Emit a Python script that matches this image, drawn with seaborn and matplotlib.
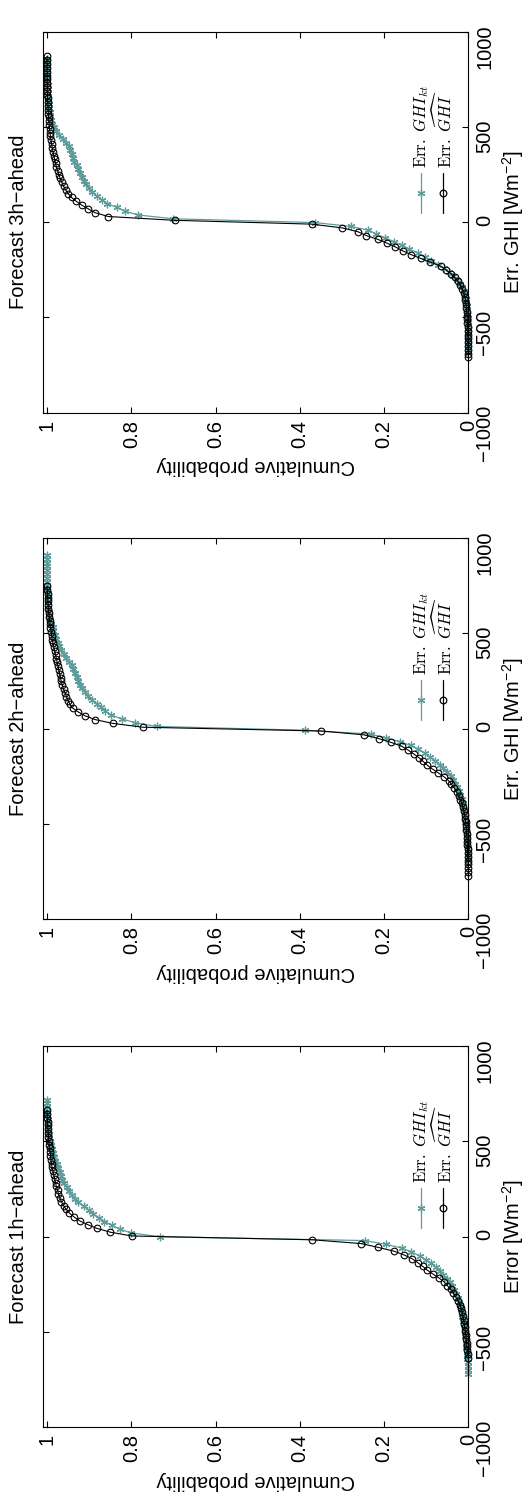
import matplotlib
matplotlib.use("Agg")
import matplotlib.pyplot as plt
import seaborn as sns
import pandas as pd

# ---------------- data ----------------
# Forecast 3h-ahead
E3_GHI_ERR = [-710, -690, -670, -650, -630, -610, -590, -570, -550, -530, -510, -490,
              -470, -450, -430, -410, -390, -370, -350, -330, -310, -290, -270, -250,
              -230, -210, -190, -170, -150, -130, -110, -90, -70, -50, -30, -10,
              10, 30, 50, 70, 90, 110, 130, 150, 170, 190, 210, 230, 250, 270, 290, 310,
              330, 350, 370, 390, 410, 430, 450, 470, 490, 510, 530, 550, 570, 590, 610,
              630, 650, 670, 690, 710, 730, 750, 770, 790, 810, 830, 850, 870]
E3_GHI_P = [0.0, 0.0001, 0.0002, 0.0004, 0.0006, 0.0008, 0.001, 0.0013, 0.0016, 0.002, 0.0025, 0.003,
            0.0037, 0.0045, 0.0055, 0.0068, 0.0085, 0.011, 0.0145, 0.019, 0.025, 0.032, 0.041, 0.053,
            0.066, 0.090, 0.113, 0.136, 0.156, 0.173, 0.193, 0.215, 0.242, 0.262, 0.299, 0.372,
            0.697, 0.855, 0.886, 0.902, 0.918, 0.931, 0.942, 0.950, 0.956, 0.961, 0.965, 0.969,
            0.972, 0.975, 0.978, 0.980, 0.982, 0.984, 0.986, 0.988, 0.989, 0.991, 0.992, 0.993,
            0.994, 0.995, 0.996, 0.9965, 0.997, 0.9975, 0.998, 0.9985, 0.999, 0.9992, 0.9994,
            0.9995, 0.9996, 0.9997, 0.9998, 0.9998, 0.9999, 0.9999, 1.0, 1.0]
E3_KT_ERR = [-682, -662, -642, -622, -602, -582, -562, -542, -522, -502, -482, -462,
             -442, -422, -402, -382, -362, -342, -322, -302, -282, -262, -242, -222,
             -202, -182, -162, -142, -122, -102, -82, -62, -42, -22, -2,
             18, 38, 58, 78, 98, 118, 138, 158, 178, 198, 218, 238, 258, 278, 298, 318,
             338, 358, 378, 398, 418, 438, 458, 478, 498, 518, 538, 558, 578, 598, 618,
             638, 658, 678, 698, 718, 738, 758, 778, 798, 818, 838, 858]
E3_KT_P = [0.0, 0.0001, 0.0002, 0.0003, 0.0005, 0.0007, 0.0009, 0.0012, 0.0015, 0.0019, 0.0024, 0.003,
           0.0038, 0.0048, 0.006, 0.0078, 0.0105, 0.0145, 0.020, 0.027, 0.036, 0.046, 0.058, 0.072,
           0.088, 0.104, 0.119, 0.140, 0.158, 0.176, 0.198, 0.218, 0.237, 0.279, 0.364,
           0.700, 0.784, 0.815, 0.835, 0.858, 0.870, 0.882, 0.893, 0.901, 0.907, 0.913, 0.918,
           0.922, 0.926, 0.930, 0.935, 0.939, 0.942, 0.945, 0.948, 0.955, 0.963, 0.971, 0.979,
           0.984, 0.988, 0.990, 0.992, 0.9935, 0.995, 0.996, 0.997, 0.9975, 0.998, 0.9985,
           0.999, 0.9993, 0.9995, 0.9997, 0.9998, 0.9999, 1.0, 1.0]

# Forecast 2h-ahead
E2_GHI_ERR = [-772, -752, -732, -712, -692, -672, -652, -632, -612, -592, -572, -552,
              -532, -512, -492, -472, -452, -432, -412, -392, -372, -352, -332, -312,
              -292, -272, -252, -232, -212, -192, -172, -152, -132, -112, -92, -72,
              -52, -32, -12,
              8, 28, 48, 68, 88, 108, 128, 148, 168, 188, 208, 228, 248, 268, 288, 308,
              328, 348, 368, 388, 408, 428, 448, 468, 488, 508, 528, 548, 568, 588, 608,
              628, 648, 668, 688, 708, 728, 748]
E2_GHI_P = [0.0, 0.0002, 0.0004, 0.0006, 0.0009, 0.0012, 0.0015, 0.0018, 0.0022, 0.0026, 0.0031, 0.0037,
            0.0044, 0.0052, 0.0063, 0.0075, 0.0088, 0.0105, 0.0125, 0.015, 0.019, 0.023, 0.028, 0.033,
            0.040, 0.047, 0.058, 0.071, 0.085, 0.097, 0.107, 0.117, 0.130, 0.143, 0.158, 0.183,
            0.212, 0.248, 0.349,
            0.773, 0.844, 0.886, 0.910, 0.926, 0.939, 0.946, 0.950, 0.954, 0.957, 0.961, 0.964,
            0.9665, 0.968, 0.970, 0.972, 0.974, 0.976, 0.978, 0.980, 0.982, 0.984, 0.986, 0.988,
            0.989, 0.990, 0.992, 0.993, 0.994, 0.995, 0.996, 0.997, 0.9975, 0.998, 0.9985,
            0.999, 0.9995, 1.0]
E2_KT_ERR = [-688, -668, -648, -628, -608, -588, -568, -548, -528, -508, -488, -468,
             -448, -428, -408, -388, -368, -348, -328, -308, -288, -268, -248, -228,
             -208, -188, -168, -148, -128, -108, -88, -68, -48, -28, -8,
             12, 32, 52, 72, 92, 112, 132, 152, 172, 192, 212, 232, 252, 272, 292, 312,
             332, 352, 372, 392, 412, 432, 452, 472, 492, 512, 532, 552, 572, 592, 612,
             632, 652, 672, 692, 712, 732, 752, 772, 792, 812, 832, 852, 872, 892, 912]
E2_KT_P = [0.0, 0.0006, 0.0012, 0.0018, 0.0024, 0.003, 0.0036, 0.0042, 0.0048, 0.0055, 0.0062, 0.007,
           0.0083, 0.0098, 0.0115, 0.0135, 0.016, 0.0187, 0.022, 0.026, 0.031, 0.036, 0.042, 0.050,
           0.059, 0.068, 0.079, 0.091, 0.104, 0.119, 0.137, 0.162, 0.196, 0.232, 0.388,
           0.740, 0.792, 0.823, 0.848, 0.862, 0.872, 0.882, 0.894, 0.903, 0.909, 0.916, 0.922,
           0.926, 0.930, 0.934, 0.938, 0.942, 0.948, 0.954, 0.960, 0.966, 0.971, 0.975, 0.978,
           0.981, 0.985, 0.987, 0.990, 0.993, 0.995, 0.996, 0.997, 0.9975, 0.998, 0.9985,
           0.999, 0.9992, 0.9994, 0.9995, 0.9996, 0.9997, 0.9998, 0.9999, 0.9999, 1.0, 1.0]

# Forecast 1h-ahead
E1_GHI_ERR = [-636, -616, -596, -576, -556, -536, -516, -496, -476, -456, -436, -416,
              -396, -376, -356, -336, -316, -296, -276, -256, -236, -216, -196, -176,
              -156, -136, -116, -96, -76, -56, -36, -16,
              4, 24, 44, 64, 84, 104, 124, 144, 164, 184, 204, 224, 244, 264, 284, 304,
              324, 344, 364, 384, 404, 424, 444, 464, 484, 504, 524, 544, 564, 584, 604,
              624, 644, 664]
E1_GHI_P = [0.0, 0.0012, 0.0023, 0.0032, 0.004, 0.0048, 0.0058, 0.0068, 0.0083, 0.0095, 0.011, 0.0125,
            0.0145, 0.017, 0.020, 0.024, 0.030, 0.036, 0.042, 0.050, 0.058, 0.070, 0.084, 0.097,
            0.108, 0.120, 0.133, 0.152, 0.176, 0.214, 0.254, 0.370,
            0.799, 0.850, 0.882, 0.904, 0.923, 0.936, 0.947, 0.955, 0.961, 0.966, 0.970, 0.973,
            0.975, 0.978, 0.980, 0.982, 0.984, 0.986, 0.988, 0.9895, 0.991, 0.992, 0.993, 0.994,
            0.995, 0.996, 0.9967, 0.9973, 0.998, 0.9985, 0.999, 0.9994, 0.9997, 1.0]
E1_KT_ERR = [-720, -700, -680, -660, -640, -620, -600, -580, -560, -540, -520, -500,
             -480, -460, -440, -420, -400, -380, -360, -340, -320, -300, -280, -260,
             -240, -220, -200, -180, -160, -140, -120, -100, -80, -60, -40, -20, 0,
             20, 40, 60, 80, 100, 120, 140, 160, 180, 200, 220, 240, 260, 280, 300, 320,
             340, 360, 380, 400, 420, 440, 460, 480, 500, 520, 540, 560, 580, 600, 620,
             640, 660, 680, 700, 720]
E1_KT_P = [0.0, 0.0005, 0.001, 0.0016, 0.0023, 0.003, 0.0037, 0.0044, 0.0051, 0.0059, 0.0067, 0.0077,
           0.0088, 0.0102, 0.012, 0.0138, 0.0153, 0.017, 0.019, 0.022, 0.0255, 0.029, 0.033, 0.038,
           0.0445, 0.051, 0.060, 0.068, 0.0775, 0.089, 0.101, 0.115, 0.135, 0.157, 0.195, 0.246, 0.732,
           0.800, 0.828, 0.846, 0.864, 0.877, 0.891, 0.901, 0.913, 0.926, 0.934, 0.941, 0.948,
           0.953, 0.960, 0.964, 0.967, 0.970, 0.973, 0.977, 0.981, 0.984, 0.986, 0.988, 0.990,
           0.992, 0.9945, 0.996, 0.997, 0.9978, 0.9984, 0.9988, 0.9992, 0.9995, 0.9997, 0.9999, 1.0]

TITLES = ["Forecast 3h\u2212ahead", "Forecast 2h\u2212ahead", "Forecast 1h\u2212ahead"]
ERR_LABELS = ["Err. GHI [Wm$^{-2}$]", "Err. GHI [Wm$^{-2}$]", "Error [Wm$^{-2}$]"]
LEGEND_LABELS = [r"$\mathrm{Err.}\ GHI_{kt}$", r"$\mathrm{Err.}\ \widehat{GHI}$"]
PROB_TICKS = [1, 0.8, 0.6, 0.4, 0.2, 0]
PROB_TICKLABELS = ["1", "0.8", "0.6", "0.4", "0.2", "0"]
ERR_TICKS = [-1000, -500, 0, 500, 1000]

SERIES = [
    (E3_KT_ERR, E3_KT_P, E3_GHI_ERR, E3_GHI_P),
    (E2_KT_ERR, E2_KT_P, E2_GHI_ERR, E2_GHI_P),
    (E1_KT_ERR, E1_KT_P, E1_GHI_ERR, E1_GHI_P),
]

# ---------------- style ----------------
sns.set_theme(style="ticks")
plt.rcParams.update({
    "font.family": ["Liberation Sans", "DejaVu Sans"],
    "mathtext.fontset": "custom",
    "mathtext.rm": "Liberation Sans",
    "mathtext.it": "Liberation Sans:italic",
    "mathtext.bf": "Liberation Sans:bold",
    "text.color": "black",
    "axes.labelcolor": "black",
    "xtick.color": "black",
    "ytick.color": "black",
    "axes.edgecolor": "black",
    "axes.linewidth": 0.8,
})

TEAL = "#5e9c9c"
FS = 14.5

fig = plt.figure(figsize=(5.30, 15.03), dpi=100)
BOTTOMS = [0.7254, 0.3884, 0.0504]
L, W, H = 0.0817, 0.8019, 0.2535

for i, (kt_e, kt_p, g_e, g_p) in enumerate(SERIES):
    ax = fig.add_axes([L, BOTTOMS[i], W, H])
    df_kt = pd.DataFrame({"prob": kt_p, "err": kt_e})
    df_g = pd.DataFrame({"prob": g_p, "err": g_e})
    sns.lineplot(data=df_kt, x="prob", y="err", sort=False, estimator=None, ax=ax,
                 color=TEAL, linewidth=0.9, marker=(6, 2, 0), markersize=5.5,
                 markeredgecolor=TEAL, markerfacecolor=TEAL, markeredgewidth=0.9,
                 clip_on=False)
    sns.lineplot(data=df_g, x="prob", y="err", sort=False, estimator=None, ax=ax,
                 color="black", linewidth=0.8, marker="o", markersize=4.8,
                 markeredgecolor="black", markerfacecolor="none", markeredgewidth=0.8,
                 clip_on=False)

    ax.set_xlim(1.009, 0)
    ax.set_ylim(-1000, 1000)
    ax.set_xticks(PROB_TICKS)
    ax.set_xticklabels(PROB_TICKLABELS)
    ax.set_yticks(ERR_TICKS)
    ax.tick_params(direction="in", length=4, width=0.8, top=True, bottom=True,
                   left=True, right=True, labelleft=False, labelright=True,
                   labelsize=FS, pad=5)
    ax.tick_params(axis="x", labelrotation=90)
    ax.tick_params(axis="y", labelrotation=90)
    for s in ax.spines.values():
        s.set_visible(True)
        s.set_color("black")
        s.set_linewidth(0.8)

    ax.set_xlabel("Cumulative probability", rotation=180, fontsize=FS, labelpad=6)
    ax.yaxis.set_label_position("right")
    ax.set_ylabel(ERR_LABELS[i], rotation=90, fontsize=FS, labelpad=4)
    ax.text(-0.058, 0.5, TITLES[i], rotation=90, ha="center", va="center",
            fontsize=FS, transform=ax.transAxes)

    # legend (drawn rotated, like the rest of the figure)
    for j, (xf, col, mk, mfc) in enumerate([(0.888, TEAL, (6, 2, 0), TEAL),
                                              (0.940, "black", "o", "none")]):
        ax.plot([xf, xf], [0.523, 0.628], color=col, lw=0.9, transform=ax.transAxes,
                clip_on=False)
        ax.plot([xf], [0.5755], color=col, lw=0, marker=mk, markersize=5.5 if j == 0 else 4.8,
                markeredgecolor=col, markerfacecolor=mfc, markeredgewidth=0.9,
                transform=ax.transAxes, clip_on=False)
        ax.text(xf, 0.642, LEGEND_LABELS[j], rotation=90, rotation_mode="anchor",
                ha="left", va="center", fontsize=12, math_fontfamily="cm",
                transform=ax.transAxes)

fig.savefig("out.png", dpi=100)
